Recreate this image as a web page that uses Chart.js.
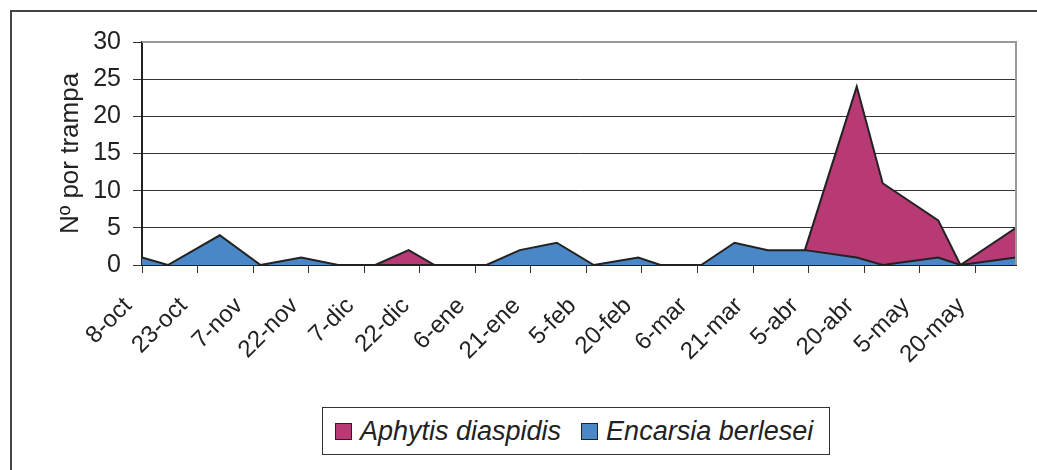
<!DOCTYPE html>
<html>
<head>
<meta charset="utf-8">
<script src="https://cdn.jsdelivr.net/npm/chart.js@4"></script>
<style>
  body { margin: 0; background: #fff; }
  #wrap { position: relative; width: 1037px; height: 470px; overflow: hidden; font-family: "Liberation Sans", Arial, sans-serif; }
  #frame { position: absolute; left: 10px; top: 10px; width: 1100px; height: 500px; border-left: 2px solid #444; border-top: 2px solid #444; }
  canvas { position: absolute; left: 0; top: 0; }
  #legend { position: absolute; left: 322px; top: 407px; width: 506px; height: 46px; border: 1px solid #333; background: #fff;
    display: flex; align-items: center; font-style: italic; font-size: 27px; color: #222; }
  .item { display: flex; align-items: center; margin-left: 12px; margin-right: 8px; }
  .sw { width: 15px; height: 15px; border: 1px solid #222; margin-right: 8px; }
</style>
</head>
<body>
<div id="wrap">
  <div id="frame"></div>
  <canvas id="chart" width="1037" height="470"></canvas>
  <div id="legend"></div>
</div>
<script>
// days since 8-oct for each sample
const sampleDays = [0, 7, 21, 32, 43, 53, 63, 72, 79, 93, 102, 112, 122, 134, 140, 151, 160, 169, 179, 193, 200, 215, 221, 236]
const aphytis = [0, 0, 0, 0, 0, 0, 0, 2, 0, 0, 0, 0, 0, 0, 0, 0, 0, 0, 2, 24, 11, 6, 0, 5]
const encarsia = [1, 0, 4, 0, 1, 0, 0, 0, 0, 0, 2, 3, 0, 1, 0, 0, 3, 2, 2, 1, 0, 1, 0, 1]
const tickLabels = ["8-oct", "23-oct", "7-nov", "22-nov", "7-dic", "22-dic", "6-ene", "21-ene",
  "5-feb", "20-feb", "6-mar", "21-mar", "5-abr", "20-abr", "5-may", "20-may"]
const seriesNames = ["Aphytis diaspidis", "Encarsia berlesei"]
const seriesColors = ["#b83a74", "#4a87c6"]

const toPoints = vals => vals.map((v, i) => ({ x: sampleDays[i], y: v }))

// gray frame on top/right of plot area
const plotFrame = {
  id: "plotFrame",
  afterDraw(chart) {
    const { ctx, chartArea } = chart
    ctx.save()
    ctx.strokeStyle = "#9a9a9a"
    ctx.lineWidth = 2
    ctx.beginPath()
    ctx.moveTo(chartArea.left, chartArea.top)
    ctx.lineTo(chartArea.right, chartArea.top)
    ctx.lineTo(chartArea.right, chartArea.bottom)
    ctx.stroke()
    ctx.restore()
  },
}

const fontFamily = '"Liberation Sans", Arial, sans-serif'

new Chart(document.getElementById("chart"), {
  type: "line",
  data: {
    datasets: [
      {
        label: seriesNames[0],
        data: toPoints(aphytis),
        backgroundColor: seriesColors[0],
        borderColor: "#222",
        borderWidth: 2,
        fill: "origin",
        order: 1,
      },
      {
        label: seriesNames[1],
        data: toPoints(encarsia),
        backgroundColor: seriesColors[1],
        borderColor: "#222",
        borderWidth: 2,
        fill: "origin",
        order: 0,
      },
    ],
  },
  options: {
    responsive: false,
    animation: false,
    elements: { point: { radius: 0 }, line: { tension: 0 } },
    layout: { padding: { left: 55, right: 21, top: 42, bottom: 105 } },
    plugins: { legend: { display: false }, tooltip: { enabled: false } },
    scales: {
      x: {
        type: "linear",
        min: 0,
        max: sampleDays[sampleDays.length - 1],
        afterFit: scale => { scale.height = 100 },
        grid: { display: true, drawOnChartArea: false, color: "#333", tickLength: 8 },
        border: { color: "#222", width: 2 },
        ticks: {
          stepSize: 15,
          includeBounds: false,
          autoSkip: false,
          maxRotation: 45,
          minRotation: 45,
          padding: 19,
          labelOffset: -14,
          color: "#222",
          font: { family: fontFamily, size: 24 },
          callback: value => tickLabels[Math.round(value / 15)],
        },
      },
      y: {
        min: 0,
        max: 30,
        afterFit: scale => { scale.width = 87 },
        grid: { color: "#333", tickLength: 9 },
        border: { color: "#222", width: 2 },
        ticks: {
          stepSize: 5,
          padding: 12,
          color: "#222",
          font: { family: fontFamily, size: 25 },
        },
        title: {
          display: true,
          text: "Nº por trampa",
          color: "#222",
          padding: { top: 0, bottom: 4 },
          font: { family: fontFamily, size: 26 },
        },
      },
    },
  },
  plugins: [plotFrame],
})

const legend = document.getElementById("legend")
seriesNames.forEach((name, i) => {
  const item = document.createElement("div")
  item.className = "item"
  item.innerHTML = `<span class="sw" style="background:${seriesColors[i]}"></span>${name}`
  legend.appendChild(item)
})
</script>
</body>
</html>
